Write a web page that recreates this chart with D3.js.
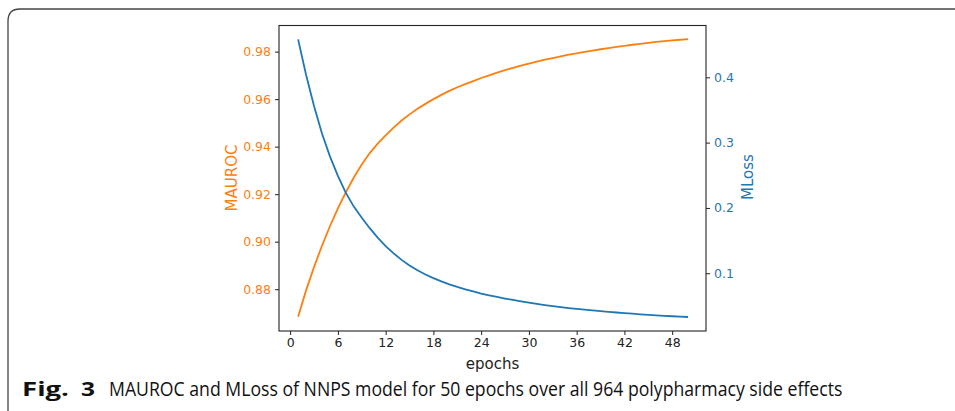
<!DOCTYPE html>
<html>
<head>
<meta charset="utf-8">
<script src="https://cdn.jsdelivr.net/npm/d3@7"></script>
<style>
  html, body { margin: 0; padding: 0; background: #fff; }
  svg { display: block; }
</style>
</head>
<body>
<svg id="chart" width="955" height="411"></svg>
<script>
const epochs = d3.range(1, 51);
const mauroc = [
  0.8684, 0.8795, 0.8893, 0.8983, 0.9065, 0.9140, 0.9208, 0.9270, 0.9325, 0.9373,
  0.9413, 0.9447, 0.9480, 0.9510, 0.9536, 0.9560, 0.9580, 0.9600, 0.9618, 0.9635,
  0.9650, 0.9663, 0.9676, 0.9689, 0.9700, 0.9712, 0.9722, 0.9732, 0.9741, 0.9750,
  0.9758, 0.9766, 0.9773, 0.9780, 0.9787, 0.9793, 0.9799, 0.9804, 0.9810, 0.9815,
  0.9820, 0.9824, 0.9829, 0.9833, 0.9837, 0.9841, 0.9844, 0.9847, 0.9850, 0.9853
];
const mloss = [
  0.458, 0.404, 0.356, 0.314, 0.279, 0.249, 0.223, 0.202, 0.185, 0.169,
  0.1545, 0.1415, 0.1305, 0.1205, 0.112, 0.1045, 0.098, 0.0925, 0.0875, 0.083,
  0.079, 0.0755, 0.0722, 0.069, 0.0663, 0.0637, 0.0613, 0.0591, 0.057, 0.055,
  0.0531, 0.0513, 0.0497, 0.0482, 0.0467, 0.0454, 0.0442, 0.0431, 0.042, 0.041,
  0.0399, 0.039, 0.0381, 0.0372, 0.0364, 0.0356, 0.0349, 0.0342, 0.0336, 0.0330
];
const xTicks = [0, 6, 12, 18, 24, 30, 36, 42, 48];
const leftTicks = [0.88, 0.90, 0.92, 0.94, 0.96, 0.98];
const rightTicks = [0.1, 0.2, 0.3, 0.4];
const captionFig = "Fig.";
const captionNum = "3";
const captionText = "MAUROC and MLoss of NNPS model for 50 epochs over all 964 polypharmacy side effects";

const ORANGE = "#ff7f0e", BLUE = "#1f77b4";
const L = 279, R = 706, T = 25.5, B = 331;

const svg = d3.select("#chart");

// frame
svg.append("path")
  .attr("d", `M8,411 L8,21 Q8,9 20,9 L956,9`)
  .attr("fill", "none").attr("stroke", "#444").attr("stroke-width", 1.3);

const x = d3.scaleLinear().domain([-1.4, 52.25]).range([L, R]);
const yL = d3.scaleLinear().domain([0.8624, 0.991]).range([B, T]);
const yR = d3.scaleLinear().domain([0.0116, 0.4793]).range([B, T]);

const font = "'DejaVu Sans', sans-serif";

// axes
const gx = svg.append("g").attr("transform", `translate(0,${B})`)
  .call(d3.axisBottom(x).tickValues(xTicks).tickFormat(d3.format("d")).tickSize(4).tickPadding(3));
const gl = svg.append("g").attr("transform", `translate(${L},0)`)
  .call(d3.axisLeft(yL).tickValues(leftTicks).tickFormat(d3.format(".2f")).tickSize(4).tickPadding(4));
const gr = svg.append("g").attr("transform", `translate(${R},0)`)
  .call(d3.axisRight(yR).tickValues(rightTicks).tickFormat(d3.format(".1f")).tickSize(4).tickPadding(4));

[gx, gl, gr].forEach(g => {
  g.select(".domain").remove();
  g.selectAll("line").attr("stroke", "#222").attr("stroke-width", 1);
  g.selectAll("text").attr("font-family", font).attr("font-size", 12.5);
});
gx.selectAll("text").attr("fill", "#222");
gl.selectAll("text").attr("fill", ORANGE);
gr.selectAll("text").attr("fill", BLUE);

// spines
svg.append("rect").attr("x", L).attr("y", T).attr("width", R - L).attr("height", B - T)
  .attr("fill", "none").attr("stroke", "#222").attr("stroke-width", 1.1);

// lines
const lineL = d3.line().x((d, i) => x(epochs[i])).y(d => yL(d));
const lineR = d3.line().x((d, i) => x(epochs[i])).y(d => yR(d));
svg.append("path").datum(mauroc).attr("d", lineL)
  .attr("fill", "none").attr("stroke", ORANGE).attr("stroke-width", 1.8);
svg.append("path").datum(mloss).attr("d", lineR)
  .attr("fill", "none").attr("stroke", BLUE).attr("stroke-width", 1.8);

// axis labels
svg.append("text").attr("x", (L + R) / 2).attr("y", 369).attr("text-anchor", "middle")
  .attr("font-family", font).attr("font-size", 15).attr("fill", "#222").text("epochs");
svg.append("text").attr("transform", `translate(237,178) rotate(-90)`).attr("text-anchor", "middle")
  .attr("font-family", font).attr("font-size", 15).attr("fill", ORANGE).text("MAUROC");
svg.append("text").attr("transform", `translate(753,177) rotate(-90)`).attr("text-anchor", "middle")
  .attr("font-family", font).attr("font-size", 15).attr("fill", BLUE).text("MLoss");

// caption (glyphs horizontally condensed to match the narrow caption face)
const capFont = "'Open Sans', 'Noto Sans', sans-serif";
function fitText(txt, x0, y0, width, size, weight) {
  const t = svg.append("text").attr("x", 0).attr("y", 0)
    .attr("font-family", capFont).attr("font-weight", weight).attr("font-size", size)
    .attr("fill", "#111").text(txt);
  const w = t.node().getComputedTextLength();
  t.attr("transform", `translate(${x0},${y0}) scale(${width / w},1)`);
}
fitText(captionFig, 22, 396, 47, 20, "bold");
fitText(captionNum, 81, 396, 14, 20, "bold");
fitText(captionText, 109, 396, 734, 19.5, "normal");
</script>
</body>
</html>
